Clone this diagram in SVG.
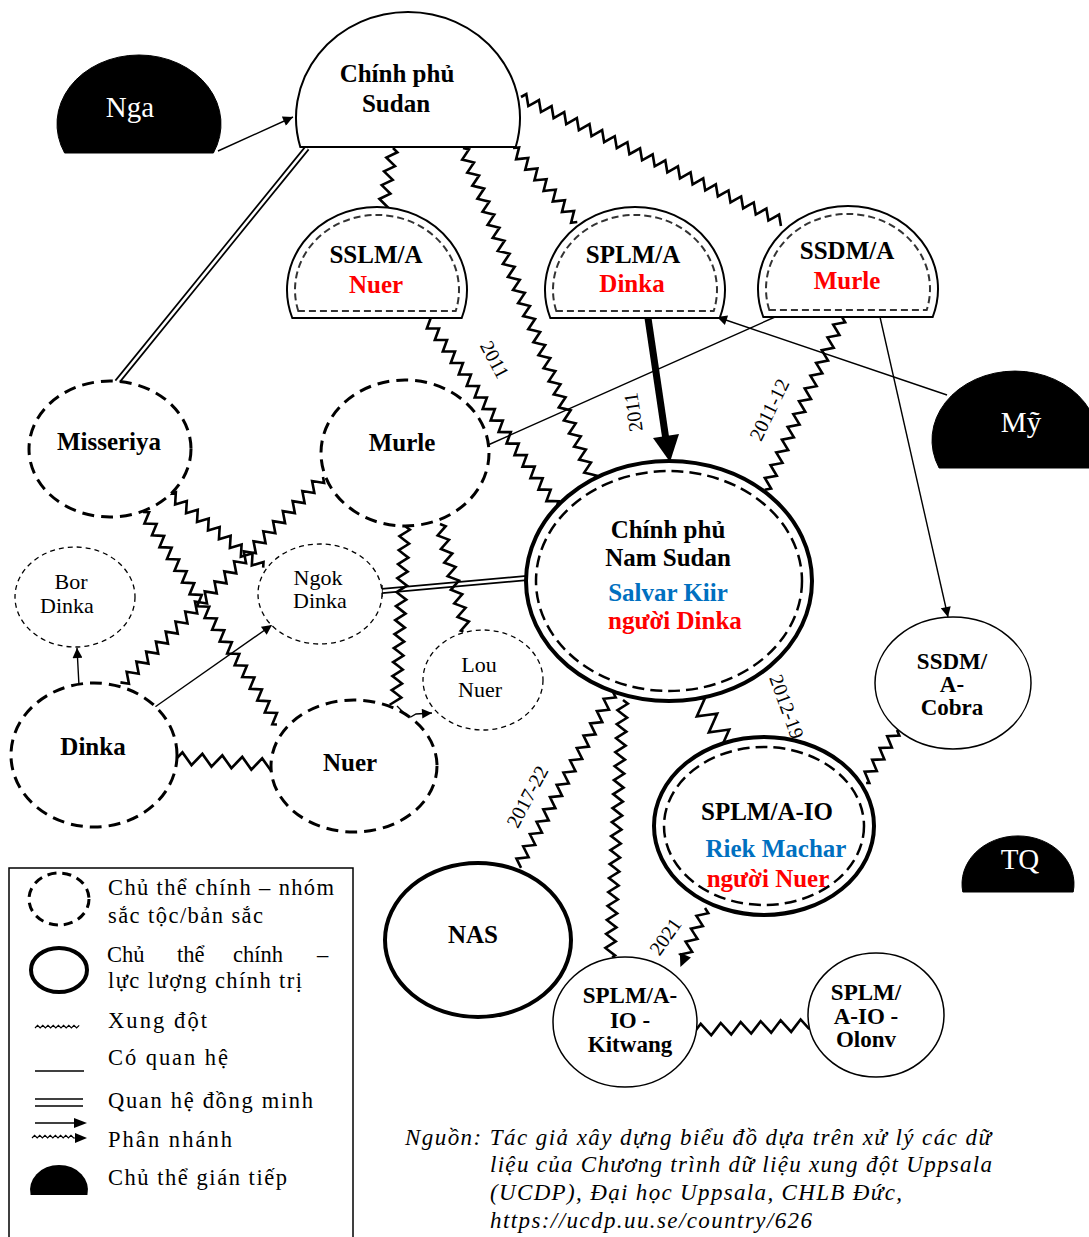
<svg xmlns="http://www.w3.org/2000/svg" xmlns:xlink="http://www.w3.org/1999/xlink" width="1089" height="1237" viewBox="0 0 1089 1237">
<style>
text{font-family:"Liberation Serif","Times New Roman",serif;fill:#000}
.b{font-weight:bold;font-size:25px;text-anchor:middle}
.bs{font-weight:bold;font-size:23px;text-anchor:middle}
.r{font-size:22px;text-anchor:middle}
.w{fill:#fff;font-size:29px;text-anchor:middle}
.red{fill:#ff0000}
.blue{fill:#0070c0}
.yr{font-size:20px;text-anchor:middle}
.lg{font-size:22.5px}
.src{font-size:23px;font-style:italic}
.zz{fill:none;stroke:#000;stroke-width:2.6;stroke-linejoin:miter}
.thin{fill:none;stroke:#000;stroke-width:1.4}
.dome{fill:#fff;stroke:#000;stroke-width:2}
.domein{fill:none;stroke:#333;stroke-width:2;stroke-dasharray:7 4}
.blk{fill:#000;stroke:#000}
.eth{fill:#fff;stroke:#000;stroke-width:3;stroke-dasharray:12 7}
.sub{fill:#fff;stroke:#000;stroke-width:1.3;stroke-dasharray:5 4}
.pol{fill:#fff;stroke:#000;stroke-width:4}
.pin{fill:none;stroke:#000;stroke-width:2.5;stroke-dasharray:12 6}
.sm{fill:#fff;stroke:#000;stroke-width:1.5}
.dbo{fill:none;stroke:#000;stroke-width:6}
.dbi{fill:none;stroke:#fff;stroke-width:2.6}
</style>
<defs>
<path id="zz" d="M0,0l3.5,-5l7,10l3.5,-5l3.5,-5l7,10l3.5,-5l3.5,-5l7,10l3.5,-5l3.5,-5l7,10l3.5,-5l3.5,-5l7,10l3.5,-5l3.5,-5l7,10l3.5,-5l3.5,-5l7,10l3.5,-5l3.5,-5l7,10l3.5,-5l3.5,-5l7,10l3.5,-5l3.5,-5l7,10l3.5,-5l3.5,-5l7,10l3.5,-5l3.5,-5l7,10l3.5,-5l3.5,-5l7,10l3.5,-5l3.5,-5l7,10l3.5,-5l3.5,-5l7,10l3.5,-5l3.5,-5l7,10l3.5,-5l3.5,-5l7,10l3.5,-5l3.5,-5l7,10l3.5,-5l3.5,-5l7,10l3.5,-5l3.5,-5l7,10l3.5,-5l3.5,-5l7,10l3.5,-5l3.5,-5l7,10l3.5,-5l3.5,-5l7,10l3.5,-5l3.5,-5l7,10l3.5,-5l3.5,-5l7,10l3.5,-5l3.5,-5l7,10l3.5,-5l3.5,-5l7,10l3.5,-5l3.5,-5l7,10l3.5,-5l3.5,-5l7,10l3.5,-5l3.5,-5l7,10l3.5,-5l3.5,-5l7,10l3.5,-5l3.5,-5l7,10l3.5,-5l3.5,-5l7,10l3.5,-5l3.5,-5l7,10l3.5,-5l3.5,-5l7,10l3.5,-5l3.5,-5l7,10l3.5,-5l3.5,-5l7,10l3.5,-5l3.5,-5l7,10l3.5,-5l3.5,-5l7,10l3.5,-5l3.5,-5l7,10l3.5,-5l3.5,-5l7,10l3.5,-5"/>
<path id="zzw" d="M0,0l5,-6l10,12l5,-6l5,-6l10,12l5,-6l5,-6l10,12l5,-6l5,-6l10,12l5,-6l5,-6l10,12l5,-6l5,-6l10,12l5,-6l5,-6l10,12l5,-6"/>
<path id="zzb" d="M0,0l5,-9l10,18l5,-9l5,-9l10,18l5,-9l5,-9l10,18l5,-9l5,-9l10,18l5,-9"/>
<marker id="ah" viewBox="0 0 10 10" refX="10" refY="5" markerWidth="12" markerHeight="10" markerUnits="userSpaceOnUse" orient="auto"><path d="M0,0L10,5L0,10z" fill="#000"/></marker>
</defs>

<g id="connectors">
<line class="thin" x1="218" y1="151" x2="293" y2="117" marker-end="url(#ah)"/>
<line class="dbo" x1="307" y1="148" x2="117" y2="382"/>
<line class="dbi" x1="307" y1="148" x2="117" y2="382"/>
<line class="dbo" x1="382" y1="591" x2="527" y2="578"/>
<line class="dbi" x1="382" y1="591" x2="527" y2="578"/>
<line class="thin" x1="382" y1="585" x2="382" y2="597"/>
<use href="#zz" class="zz" transform="translate(393,148) rotate(99.5)" stroke-dasharray="106 9999"/>
<use href="#zz" class="zz" transform="translate(463,148) rotate(68.7)" stroke-dasharray="620 9999"/>
<use href="#zz" class="zz" transform="translate(513,148) rotate(49.1)" stroke-dasharray="171 9999"/>
<use href="#zz" class="zz" transform="translate(521,97) rotate(25.5)" stroke-dasharray="506 9999"/>
<use href="#zz" class="zz" transform="translate(425,317) rotate(55.3)" stroke-dasharray="401 9999"/>
<use href="#zz" class="zz" transform="translate(842,317) rotate(114)" stroke-dasharray="330 9999"/>
<use href="#zz" class="zz" transform="translate(440,524) rotate(76.3)" stroke-dasharray="192 9999"/>
<use href="#zz" class="zz" transform="translate(405,526) rotate(92.9)" stroke-dasharray="312 9999"/>
<use href="#zz" class="zz" transform="translate(143,512) rotate(57.5)" stroke-dasharray="438 9999"/>
<use href="#zz" class="zz" transform="translate(170,494) rotate(38.5)" stroke-dasharray="207 9999"/>
<use href="#zz" class="zz" transform="translate(323,477) rotate(134.2)" stroke-dasharray="503 9999"/>
<use href="#zzw" class="zz" transform="translate(177,758) rotate(4.3)" stroke-dasharray="148 9999"/>
<use href="#zzb" class="zz" transform="translate(695,699) rotate(53.1)" stroke-dasharray="113 9999"/>
<use href="#zz" class="zz" transform="translate(897,730) rotate(122.4)" stroke-dasharray="107 9999"/>
<use href="#zz" class="zz" transform="translate(613,692) rotate(118.6)" stroke-dasharray="346 9999"/>
<use href="#zz" class="zz" transform="translate(623,700) rotate(92.9)" stroke-dasharray="449 9999"/>
<use href="#zzw" class="zz" transform="translate(696,1030) rotate(-2.5)" stroke-dasharray="177 9999"/>
<g transform="translate(705,908) rotate(112.6)">
<use href="#zz" class="zz" stroke-dasharray="92 9999"/>
<path d="M64,0L51,-6L51,6z" fill="#000"/>
</g>
<path class="thin" d="M397,706l12,12l7,-4l16,-1" marker-end="url(#ah)"/>
<line x1="648" y1="318" x2="666" y2="440" stroke="#000" stroke-width="7"/>
<polygon points="670,462 679,434 653,438" fill="#000"/>
<line class="thin" x1="488" y1="445" x2="775" y2="317"/>
<line class="thin" x1="947" y1="395" x2="717" y2="317" marker-end="url(#ah)"/>
<line class="thin" x1="880" y1="317" x2="948" y2="617" marker-end="url(#ah)"/>
<line class="thin" x1="155" y1="707" x2="272" y2="625" marker-end="url(#ah)"/>
<path class="thin" d="M71,688L79,686L77,648" marker-end="url(#ah)"/>
<text class="yr" transform="translate(494,360) rotate(62)" y="6">2011</text>
<text class="yr" transform="translate(634,412) rotate(-98)" y="6">2011</text>
<text class="yr" transform="translate(770,410) rotate(-64)" y="6">2011-12</text>
<text class="yr" transform="translate(786,707) rotate(70)" y="6">2012-19</text>
<text class="yr" transform="translate(528,797) rotate(-62)" y="6">2017-22</text>
<text class="yr" transform="translate(666,937) rotate(-55)" y="6">2021</text>
</g>

<g id="n-sudan">
<path class="dome" d="M300.3,147A112,106 0 1 1 515.7,147Z"/>
<text class="b" x="397" y="82">Chính phủ</text>
<text class="b" x="396" y="112">Sudan</text>
</g>
<g id="n-nga">
<path class="blk" d="M64.6,153A82,69 0 1 1 213.4,153Z"/>
<text class="w" x="130" y="117">Nga</text>
</g>
<g id="n-my">
<path class="blk" d="M939.1,468A83,69 0 1 1 1090.9,468Z"/>
<text class="w" x="1021" y="432">Mỹ</text>
</g>
<g id="n-tq">
<path class="blk" d="M962.8,892A56,48 0 1 1 1073.2,892Z"/>
<text class="w" x="1020" y="869">TQ</text>
</g>
<g id="n-sslm">
<path class="dome" d="M292.3,318A90,83 0 1 1 461.7,318Z"/>
<path class="domein" d="M298.3,311A82,75 0 1 1 455.7,311Z"/>
<text class="b" x="376" y="263">SSLM/A</text>
<text class="b red" x="376" y="293">Nuer</text>
</g>
<g id="n-splm">
<path class="dome" d="M550.3,318A90,83 0 1 1 719.7,318Z"/>
<path class="domein" d="M556.3,311A82,75 0 1 1 713.7,311Z"/>
<text class="b" x="633" y="263">SPLM/A</text>
<text class="b red" x="632" y="292">Dinka</text>
</g>
<g id="n-ssdm">
<path class="dome" d="M763.3,317A90,83 0 1 1 932.7,317Z"/>
<path class="domein" d="M769.3,310A82,75 0 1 1 926.7,310Z"/>
<text class="b" x="847" y="259">SSDM/A</text>
<text class="b red" x="847" y="289">Murle</text>
</g>
<g id="n-misseriya">
<ellipse class="eth" cx="110" cy="449" rx="81" ry="68"/>
<text class="b" x="109" y="450">Misseriya</text>
</g>
<g id="n-murle">
<ellipse class="eth" cx="405" cy="453" rx="84" ry="73"/>
<text class="b" x="402" y="451">Murle</text>
</g>
<g id="n-bordinka">
<ellipse class="sub" cx="75" cy="597" rx="60" ry="50"/>
<text class="r" x="71" y="589">Bor</text>
<text class="r" x="67" y="613">Dinka</text>
</g>
<g id="n-ngokdinka">
<ellipse class="sub" cx="320" cy="594" rx="62" ry="50"/>
<text class="r" x="318" y="585">Ngok</text>
<text class="r" x="320" y="608">Dinka</text>
</g>
<g id="n-lounuer">
<ellipse class="sub" cx="483" cy="680" rx="60" ry="50"/>
<text class="r" x="479" y="672">Lou</text>
<text class="r" x="480" y="697">Nuer</text>
</g>
<g id="n-dinka">
<ellipse class="eth" cx="94" cy="755" rx="83" ry="72"/>
<text class="b" x="93" y="755">Dinka</text>
</g>
<g id="n-nuer">
<ellipse class="eth" cx="354" cy="766" rx="83" ry="66"/>
<text class="b" x="350" y="771">Nuer</text>
</g>
<g id="n-namsudan">
<ellipse class="pol" cx="669" cy="581" rx="143" ry="120"/>
<ellipse class="pin" cx="669" cy="581" rx="133" ry="110"/>
<text class="b" x="668" y="538">Chính phủ</text>
<text class="b" x="668" y="566">Nam Sudan</text>
<text class="b blue" x="668" y="601">Salvar Kiir</text>
<text class="b red" x="675" y="629">người Dinka</text>
</g>
<g id="n-io">
<ellipse class="pol" cx="764" cy="826" rx="110" ry="89"/>
<ellipse class="pin" cx="764" cy="826" rx="100" ry="79"/>
<text class="b" x="767" y="820">SPLM/A-IO</text>
<text class="b blue" x="776" y="857">Riek Machar</text>
<text class="b red" x="768" y="887">người Nuer</text>
</g>
<g id="n-nas">
<ellipse class="pol" cx="478" cy="940" rx="93" ry="77"/>
<text class="b" x="473" y="943">NAS</text>
</g>
<g id="n-cobra">
<ellipse class="sm" cx="953" cy="683" rx="78" ry="66"/>
<text class="bs" x="952" y="669">SSDM/</text>
<text class="bs" x="952" y="692">A-</text>
<text class="bs" x="952" y="715">Cobra</text>
</g>
<g id="n-kitwang">
<ellipse class="sm" cx="625" cy="1022" rx="72" ry="65"/>
<text class="bs" x="630" y="1003">SPLM/A-</text>
<text class="bs" x="630" y="1028">IO -</text>
<text class="bs" x="630" y="1052">Kitwang</text>
</g>
<g id="n-olony">
<ellipse class="sm" cx="876" cy="1015" rx="68" ry="62"/>
<text class="bs" x="866" y="1000">SPLM/</text>
<text class="bs" x="866" y="1024">A-IO -</text>
<text class="bs" x="866" y="1047">Olonv</text>
</g>

<g id="legend">
<rect x="9" y="868" width="344" height="400" fill="#fff" stroke="#000" stroke-width="1.5"/>
<ellipse cx="59" cy="899" rx="30" ry="26" fill="none" stroke="#000" stroke-width="3" stroke-dasharray="9 6"/>
<text class="lg" x="108" y="895" textLength="226">Chủ thể chính – nhóm</text>
<text class="lg" x="108" y="923" textLength="155">sắc tộc/bản sắc</text>
<ellipse cx="59" cy="970" rx="28" ry="22" fill="none" stroke="#000" stroke-width="4"/>
<text class="lg" x="107" y="962">Chủ</text>
<text class="lg" x="177" y="962">thể</text>
<text class="lg" x="233" y="962">chính</text>
<text class="lg" x="317" y="962">–</text>
<text class="lg" x="108" y="988" textLength="194">lực lượng chính trị</text>
<path d="M35,1028l2.6,-2.6l2.6,2.6l2.6,-2.6l2.6,2.6l2.6,-2.6l2.6,2.6l2.6,-2.6l2.6,2.6l2.6,-2.6l2.6,2.6l2.6,-2.6l2.6,2.6l2.6,-2.6l2.6,2.6l2.6,-2.6l2.6,2.6l2.6,-2.6" fill="none" stroke="#000" stroke-width="1.2"/>
<text class="lg" x="108" y="1028" textLength="99">Xung đột</text>
<line x1="35" y1="1071" x2="84" y2="1071" stroke="#000" stroke-width="1.5"/>
<text class="lg" x="108" y="1065" textLength="120">Có quan hệ</text>
<line x1="35" y1="1099" x2="83" y2="1099" stroke="#000" stroke-width="1.6"/>
<line x1="35" y1="1106" x2="83" y2="1106" stroke="#000" stroke-width="1.6"/>
<text class="lg" x="108" y="1108" textLength="205">Quan hệ đồng minh</text>
<line x1="35" y1="1123" x2="76" y2="1123" stroke="#000" stroke-width="1.6"/>
<polygon points="87,1123 74,1118 74,1128" fill="#000"/>
<path d="M32,1138l2.6,-2.6l2.6,2.6l2.6,-2.6l2.6,2.6l2.6,-2.6l2.6,2.6l2.6,-2.6l2.6,2.6l2.6,-2.6l2.6,2.6l2.6,-2.6l2.6,2.6l2.6,-2.6l2.6,2.6l2.6,-2.6l2.6,2.6h3" fill="none" stroke="#000" stroke-width="1.2"/>
<polygon points="87,1138 75,1133 75,1143" fill="#000"/>
<text class="lg" x="108" y="1147" textLength="124">Phân nhánh</text>
<path d="M30.6,1195A29,25 0 1 1 87.4,1195Z" fill="#000"/>
<text class="lg" x="108" y="1185" textLength="179">Chủ thể gián tiếp</text>
</g>

<g id="source">
<text class="src" x="405" y="1145" textLength="586">Nguồn: Tác giả xây dựng biểu đồ dựa trên xử lý các dữ</text>
<text class="src" x="490" y="1172" textLength="502">liệu của Chương trình dữ liệu xung đột Uppsala</text>
<text class="src" x="490" y="1200" textLength="412">(UCDP), Đại học Uppsala, CHLB Đức,</text>
<text class="src" x="490" y="1228" textLength="322">https://ucdp.uu.se/country/626</text>
</g>
</svg>
